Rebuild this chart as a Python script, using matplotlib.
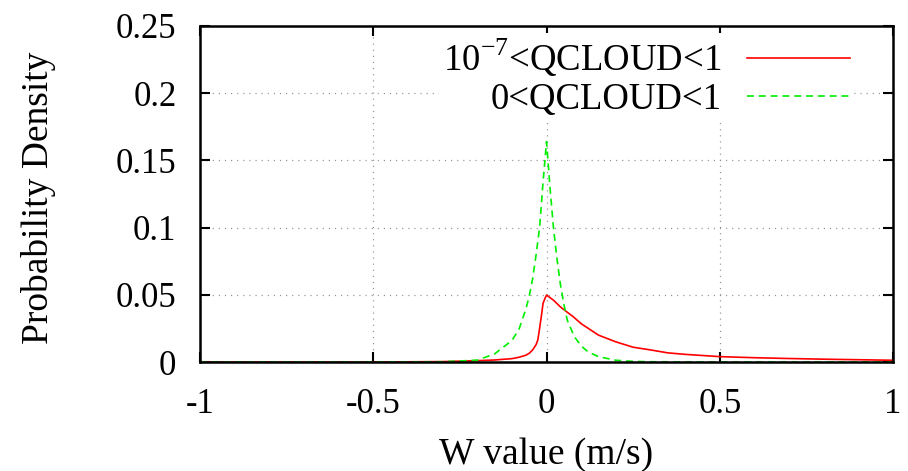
import matplotlib
matplotlib.use('Agg')
import matplotlib.pyplot as plt

plt.rcParams['font.family'] = ['Liberation Serif', 'DejaVu Serif']
plt.rcParams['mathtext.fontset'] = 'custom'
plt.rcParams['mathtext.rm'] = 'Liberation Serif'
plt.rcParams['lines.scale_dashes'] = False

# Data (W value in m/s, probability density)
w_green = [-1.0, -0.5, -0.3, -0.25, -0.2, -0.15, -0.12, -0.1, -0.08, -0.06, -0.05,
           -0.04, -0.03, -0.02, -0.01, 0.0, 0.01, 0.02, 0.03, 0.04, 0.05, 0.06,
           0.08, 0.1, 0.12, 0.15, 0.2, 0.25, 0.3, 0.5, 1.0]
pdf_green = [0.0, 0.0, 0.0002, 0.0008, 0.0014, 0.006, 0.012, 0.016, 0.024, 0.039, 0.049,
             0.062, 0.080, 0.100, 0.134, 0.164, 0.130, 0.100, 0.077, 0.058, 0.043, 0.031,
             0.019, 0.012, 0.0075, 0.004, 0.0013, 0.0005, 0.0002, 0.0, 0.0]

w_red = [-1.0, -0.5, -0.3, -0.2, -0.15, -0.1, -0.08, -0.06, -0.05, -0.04, -0.03,
         -0.025, -0.02, -0.015, -0.01, -0.005, 0.0, 0.02, 0.04, 0.06, 0.077, 0.1,
         0.15, 0.2, 0.25, 0.3, 0.35, 0.4, 0.5, 0.6, 0.7, 0.8, 0.9, 1.0]
pdf_red = [0.0, 0.0, 0.0003, 0.001, 0.0015, 0.0025, 0.0035, 0.005, 0.0065, 0.009, 0.013,
           0.0165, 0.025, 0.034, 0.0437, 0.047, 0.0498, 0.046, 0.041, 0.037, 0.0337, 0.0285,
           0.020, 0.015, 0.011, 0.009, 0.0068, 0.0057, 0.004, 0.0032, 0.0026, 0.0021, 0.0017, 0.0013]

label_red = '10$^{\\mathrm{-7}}$<QCLOUD<1'
label_green = '0<QCLOUD<1'

x_ticks = [-1, -0.5, 0, 0.5, 1]
x_tick_labels = ['-1', '-0.5', '0', '0.5', '1']
y_ticks = [0, 0.05, 0.1, 0.15, 0.2, 0.25]
y_tick_labels = ['0', '0.05', '0.1', '0.15', '0.2', '0.25']

fig = plt.figure(figsize=(9.08, 4.71), dpi=100)
ax = fig.add_axes([0.2203, 0.2314, 0.7632, 0.7134])

ax.plot(w_red, pdf_red, color='#ff0000', lw=1.2, label=label_red)
ax.plot(w_green, pdf_green, color='#00ee00', lw=1.2, dashes=(5, 3.5), label=label_green)

ax.set_xlim(-1, 1)
ax.set_ylim(0, 0.25)
ax.set_xticks(x_ticks)
ax.set_xticklabels(x_tick_labels)
ax.set_yticks(y_ticks)
ax.set_yticklabels(y_tick_labels)

ax.grid(True, color='#909090', lw=0.9, dashes=(0.8, 3.6))
ax.set_axisbelow(True)

ax.tick_params(direction='in', length=7, width=1.5, top=True, right=True,
               labelsize=25, colors='black')
ax.tick_params(axis='x', pad=19)
ax.tick_params(axis='y', pad=17)
for s in ax.spines.values():
    s.set_linewidth(1.8)

ax.set_xlabel('W value (m/s)', fontsize=27, va='center')
ax.xaxis.set_label_coords(0.5, -0.277)
ax.set_ylabel('Probability Density', fontsize=27, va='center')
ax.yaxis.set_label_coords(-0.233, 0.49)

leg = ax.legend(loc='upper right', bbox_to_anchor=(0.9435, 0.98), markerfirst=False,
                fontsize=26.5, handlelength=2.8, handletextpad=0.7, labelspacing=0.1,
                borderpad=0.1, borderaxespad=0, framealpha=1, facecolor='white',
                edgecolor='none', fancybox=False)
leg.get_frame().set_linewidth(0)

fig.savefig('out.png', dpi=100, facecolor='white')
